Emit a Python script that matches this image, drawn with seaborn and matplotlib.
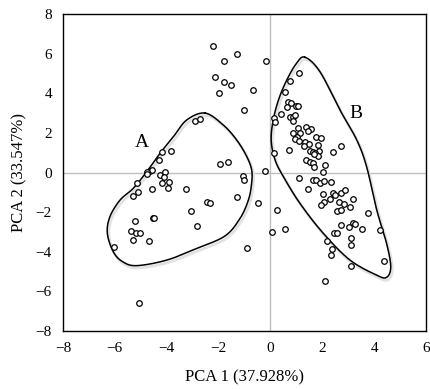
import numpy as np
import pandas as pd
import matplotlib
matplotlib.use("Agg")
import matplotlib.pyplot as plt
import seaborn as sns

# ---- data ----
pc1 = [-2.23, -1.28, -1.78, -2.14, -1.78, -1.51, -1.99, -0.68, -1.00, -2.91, -2.71,
       -3.85, -4.17, -4.30, -1.94, -1.65, -4.64, -4.55, -4.75, -4.75, -4.26, -4.08,
       -1.07, -1.02, -4.12, -4.17, -3.90, -3.94, -5.16, -5.11, -5.30, -4.58, -3.27,
       -2.46, -2.32, -1.28, -0.48, -3.07, -4.52, -4.50, -5.23, -2.82, -5.39, -5.20,
       -5.02, -5.30, -4.67, -6.02, -0.91, -5.07, -0.17,
       1.10, 0.74, 0.56, 0.69, 0.78, 0.64, 0.99, 1.08, 0.40, 0.15, 0.16, 0.76, 0.86,
       0.95, 0.88, 1.08, 1.37, 1.55, 0.88, 1.14, 1.01, 1.46, 0.96, 1.11, 1.33, 1.50,
       1.31, 1.76, 1.94, 1.84, 1.89, 1.52, 1.65, 1.73, 1.84, 1.68, 0.72, 0.15, 2.41,
       2.73, 1.37, 1.53, 1.65, 1.68, 2.11, 2.02, -0.21, 1.11, 0.24, 0.07, 0.56, 1.65,
       1.76, 1.91, 2.07, 2.32, 1.46, 2.04, 2.40, 2.50, 2.71, 2.88, 2.31, 2.07, 1.96,
       2.65, 2.85, 3.19, 3.08, 2.56, 2.72, 3.76, 2.73, 3.17, 3.27, 3.04, 3.54, 4.23,
       2.45, 2.56, 3.10, 2.19, 3.10, 2.38, 2.32, 4.39, 3.10, 2.11]
pc2 = [6.39, 5.97, 5.62, 4.84, 4.57, 4.43, 4.03, 4.15, 3.16, 2.62, 2.69,
       1.10, 1.02, 0.63, 0.41, 0.51, 0.09, 0.15, 0.03, -0.08, -0.15, 0.01,
       -0.18, -0.38, -0.24, -0.55, -0.50, -0.78, -0.55, -1.00, -1.19, -0.83, -0.83,
       -1.47, -1.54, -1.25, -1.54, -1.94, -2.28, -2.32, -2.43, -2.72, -2.94, -3.04,
       -3.04, -3.41, -3.46, -3.78, -3.83, -6.58, 5.62,
       5.03, 4.61, 4.08, 3.58, 3.49, 3.29, 3.36, 3.37, 2.97, 2.74, 2.55, 2.79, 2.82,
       2.90, 2.60, 2.23, 2.31, 2.20, 2.01, 1.98, 1.78, 2.10, 1.68, 1.58, 1.56, 1.44,
       1.34, 1.79, 1.74, 1.37, 1.10, 1.10, 1.05, 0.97, 0.83, 0.92, 1.15, 0.97, 1.04,
       1.34, 0.63, 0.51, 0.46, 0.29, 0.39, 0.04, 0.09, -0.30, -1.89, -3.00, -2.84, -0.36,
       -0.36, -0.55, -0.43, -0.50, -0.85, -1.07, -1.05, -1.12, -1.04, -0.90, -1.35, -1.49, -1.66,
       -1.49, -1.57, -1.32, -1.73, -1.94, -1.89, -2.06, -2.65, -2.53, -2.60, -2.77, -2.84, -2.89,
       -3.06, -3.06, -3.31, -3.48, -3.65, -3.88, -4.18, -4.45, -4.71, -5.46]

# hand-drawn group outlines (control points)
outline_a_x = [-2.52, -1.82, -1.30, -0.91, -0.72, -0.73, -0.85, -1.17, -1.75, -2.84, -4.0, -5.16,
               -5.7, -6.06, -6.29, -6.19, -5.8, -5.29, -4.77, -4.26, -3.74, -3.23]
outline_a_y = [3.0, 2.4, 1.64, 0.80, 0.10, -0.6, -1.39, -2.31, -3.2, -3.83, -4.42, -4.7,
               -4.5, -4.0, -3.07, -2.23, -1.39, -0.8, 0.04, 0.97, 1.81, 2.65]
outline_b_x = [1.33, 1.91, 2.68, 3.33, 3.71, 4.10, 4.48, 4.64, 4.48, 4.10, 3.07, 2.04, 1.14, 0.50, 0.18, 0.03, 0.10, 0.31, 0.63, 1.0]
outline_b_y = [5.82, 5.09, 3.16, 1.64, 0.29, -1.89, -3.58, -4.76, -5.29, -5.18, -4.42, -3.07, -1.56, -0.21, 0.63, 1.6, 2.6, 3.66, 4.67, 5.5]

group_labels = ["A", "B"]
label_x = [-4.97, 3.3]
label_y = [1.54, 3.0]

x_ticks = [-8, -6, -4, -2, 0, 2, 4, 6]
y_ticks = [-8, -6, -4, -2, 0, 2, 4, 6, 8]


def closed_spline(xs, ys, n=24):
    P = np.column_stack([xs, ys]).astype(float)
    N = len(P)
    out = []
    t = np.linspace(0, 1, n, endpoint=False)[:, None]
    for i in range(N):
        p0, p1, p2, p3 = P[i - 1], P[i], P[(i + 1) % N], P[(i + 2) % N]
        seg = 0.5 * ((2 * p1) + (-p0 + p2) * t + (2 * p0 - 5 * p1 + 4 * p2 - p3) * t ** 2
                     + (-p0 + 3 * p1 - 3 * p2 + p3) * t ** 3)
        out.append(seg)
    out.append(P[:1])
    out = np.vstack(out)
    return out[:, 0], out[:, 1]


sns.set_theme(style="white")
plt.rcParams['font.family'] = ['Liberation Serif', 'DejaVu Serif']

df = pd.DataFrame({"PC1": pc1, "PC2": pc2})

fig = plt.figure(figsize=(4.30, 3.89), dpi=100)
ax = fig.add_axes([0.1465, 0.149, 0.8442, 0.815])

ax.axvline(0, color="#bfbfbf", lw=1.0, zorder=0)
ax.axhline(0, color="#bfbfbf", lw=1.0, zorder=0)

sns.scatterplot(data=df, x="PC1", y="PC2", ax=ax, marker="o", s=16,
                facecolor="white", edgecolor="black", linewidth=0.9, zorder=3)

for ox, oy in [(outline_a_x, outline_a_y), (outline_b_x, outline_b_y)]:
    sx, sy = closed_spline(ox, oy)
    ax.plot(sx + 0.06, sy - 0.12, color="#e2e2e2", lw=2.0, zorder=1)
    ax.plot(sx, sy, color="black", lw=1.1, zorder=2)

for lab, lx, ly in zip(group_labels, label_x, label_y):
    ax.text(lx, ly, lab, fontsize=14, ha="center", va="center", color="black")

ax.set_xlim(-8, 6)
ax.set_ylim(-8, 8)
ax.set_xticks(x_ticks)
ax.set_yticks(y_ticks)
ax.tick_params(axis="both", labelsize=11, length=0, pad=8, colors="black")
ax.set_xlabel("PCA 1 (37.928%)", fontsize=12, labelpad=10, color="black")
ax.set_ylabel("PCA 2 (33.547%)", fontsize=12, labelpad=6, color="black")
for sp in ax.spines.values():
    sp.set_color("black")
    sp.set_linewidth(1.0)

fig.savefig("out.png", dpi=100)
